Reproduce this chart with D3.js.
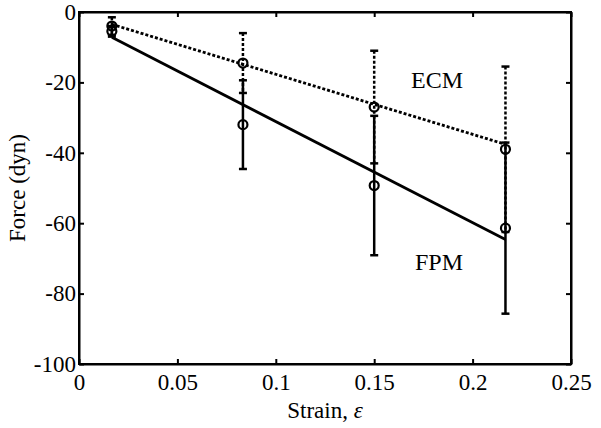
<!DOCTYPE html>
<html>
<head>
<meta charset="utf-8">
<script src="https://cdn.jsdelivr.net/npm/d3@7"></script>
<style>
  body { margin: 0; background: #fff; }
  svg text { font-family: "Liberation Serif", "Times New Roman", serif; fill: #000; }
</style>
</head>
<body>
<div class="chart"></div>
<script>
// data
const strain = [0.0167, 0.0833, 0.15, 0.2167];
const ecmForce = [-4, -14.5, -27, -39];
const ecmErr = [2.5, 8.5, 16, 23.5];
const fpmForce = [-5.5, -32, -49.3, -61.4];
const fpmErr = [1.5, 12.6, 19.8, 24.3];
// linear fits (end points)
const fitX = [0.0167, 0.2167];
const ecmFit = [-3.5, -37.6];
const fpmFit = [-7.2, -64.6];

const xTicks = [0, 0.05, 0.1, 0.15, 0.2, 0.25];
const yTicks = [-100, -80, -60, -40, -20, 0];

var margin = {top: 12, right: 30, bottom: 64, left: 79};
const width = 601 - margin.left - margin.right;
const height = 428 - margin.top - margin.bottom;

const svg = d3.select(".chart")
    .append("svg")
    .attr("width", 601)
    .attr("height", 428)
    .append("g")
    .attr("transform", "translate(" + margin.left + "," + margin.top + ")");

const xScale = d3.scaleLinear().domain([0, 0.25]).range([0, width]);
const yScale = d3.scaleLinear().domain([-100, 0]).range([height, 0]);

const fmt = d => String(d);  // plain hyphen minus like matlab

// axes, ticks inward on all four sides
let xAxis = d3.axisBottom(xScale).tickValues(xTicks).tickSizeInner(-5).tickSizeOuter(0).tickPadding(10).tickFormat(fmt);
let yAxis = d3.axisLeft(yScale).tickValues(yTicks).tickSizeInner(-5).tickSizeOuter(0).tickPadding(3).tickFormat(fmt);
let xTop = d3.axisTop(xScale).tickValues(xTicks).tickSizeInner(-5).tickSizeOuter(0).tickFormat("");
let yRight = d3.axisRight(yScale).tickValues(yTicks).tickSizeInner(-5).tickSizeOuter(0).tickFormat("");

svg.append("g").attr("class", "axis").attr("transform", `translate(0, ${height})`).call(xAxis);
svg.append("g").attr("class", "axis").call(yAxis);
svg.append("g").attr("class", "axis").call(xTop);
svg.append("g").attr("class", "axis").attr("transform", `translate(${width}, 0)`).call(yRight);

svg.selectAll(".axis")
    .attr("font-family", "Liberation Serif")
    .attr("font-size", 23);
svg.selectAll(".axis path").attr("stroke", "#000").attr("stroke-width", 2);
svg.selectAll(".axis line").attr("stroke", "#000").attr("stroke-width", 2);
svg.selectAll(".axis text").attr("fill", "#000");

// corner box
svg.append("rect").attr("width", width).attr("height", height)
    .attr("fill", "none").attr("stroke", "#000").attr("stroke-width", 2);

function drawSeries(vals, errs, fit, dash){
    const pts = strain.map((s, i) => ({x: s, y: vals[i], e: errs[i]}));

    // error bars
    const eb = svg.append("g");
    eb.selectAll(".v").data(pts).enter().append("line")
        .attr("x1", d => xScale(d.x)).attr("x2", d => xScale(d.x))
        .attr("y1", d => yScale(d.y + d.e)).attr("y2", d => yScale(d.y - d.e))
        .attr("stroke", "#000").attr("stroke-width", 2.5)
        .attr("stroke-dasharray", dash);
    [1, -1].forEach(sg => {
        eb.selectAll(".c" + sg).data(pts).enter().append("line")
            .attr("x1", d => xScale(d.x) - 4).attr("x2", d => xScale(d.x) + 4)
            .attr("y1", d => yScale(d.y + sg * d.e)).attr("y2", d => yScale(d.y + sg * d.e))
            .attr("stroke", "#000").attr("stroke-width", 2.5);
    });

    // fit line
    let line = d3.line().x(d => xScale(d[0])).y(d => yScale(d[1]));
    svg.append("path")
        .datum(fitX.map((x, i) => [x, fit[i]]))
        .attr("fill", "none")
        .attr("stroke", "#000")
        .attr("stroke-width", 2.8)
        .attr("stroke-dasharray", dash)
        .attr("d", line);

    // markers
    svg.append("g").selectAll("circle").data(pts).enter().append("circle")
        .attr("cx", d => xScale(d.x)).attr("cy", d => yScale(d.y))
        .attr("r", 4.5)
        .attr("fill", "none").attr("stroke", "#000").attr("stroke-width", 2.2);
}

drawSeries(fpmForce, fpmErr, fpmFit, null);
drawSeries(ecmForce, ecmErr, ecmFit, "3,2");

// labels
svg.append("text").attr("x", 332).attr("y", 76).style("font-size", "24px").text("ECM");
svg.append("text").attr("x", 336).attr("y", 258).style("font-size", "24px").text("FPM");

const xl = svg.append("text")
    .attr("x", width / 2).attr("y", 406)
    .attr("text-anchor", "middle").style("font-size", "23px");
xl.append("tspan").text("Strain, ");
xl.append("tspan").style("font-style", "italic").text("ε");

svg.append("text")
    .attr("transform", `translate(${-54}, ${height / 2}) rotate(-90)`)
    .attr("text-anchor", "middle").style("font-size", "23px")
    .text("Force (dyn)");
</script>
</body>
</html>
